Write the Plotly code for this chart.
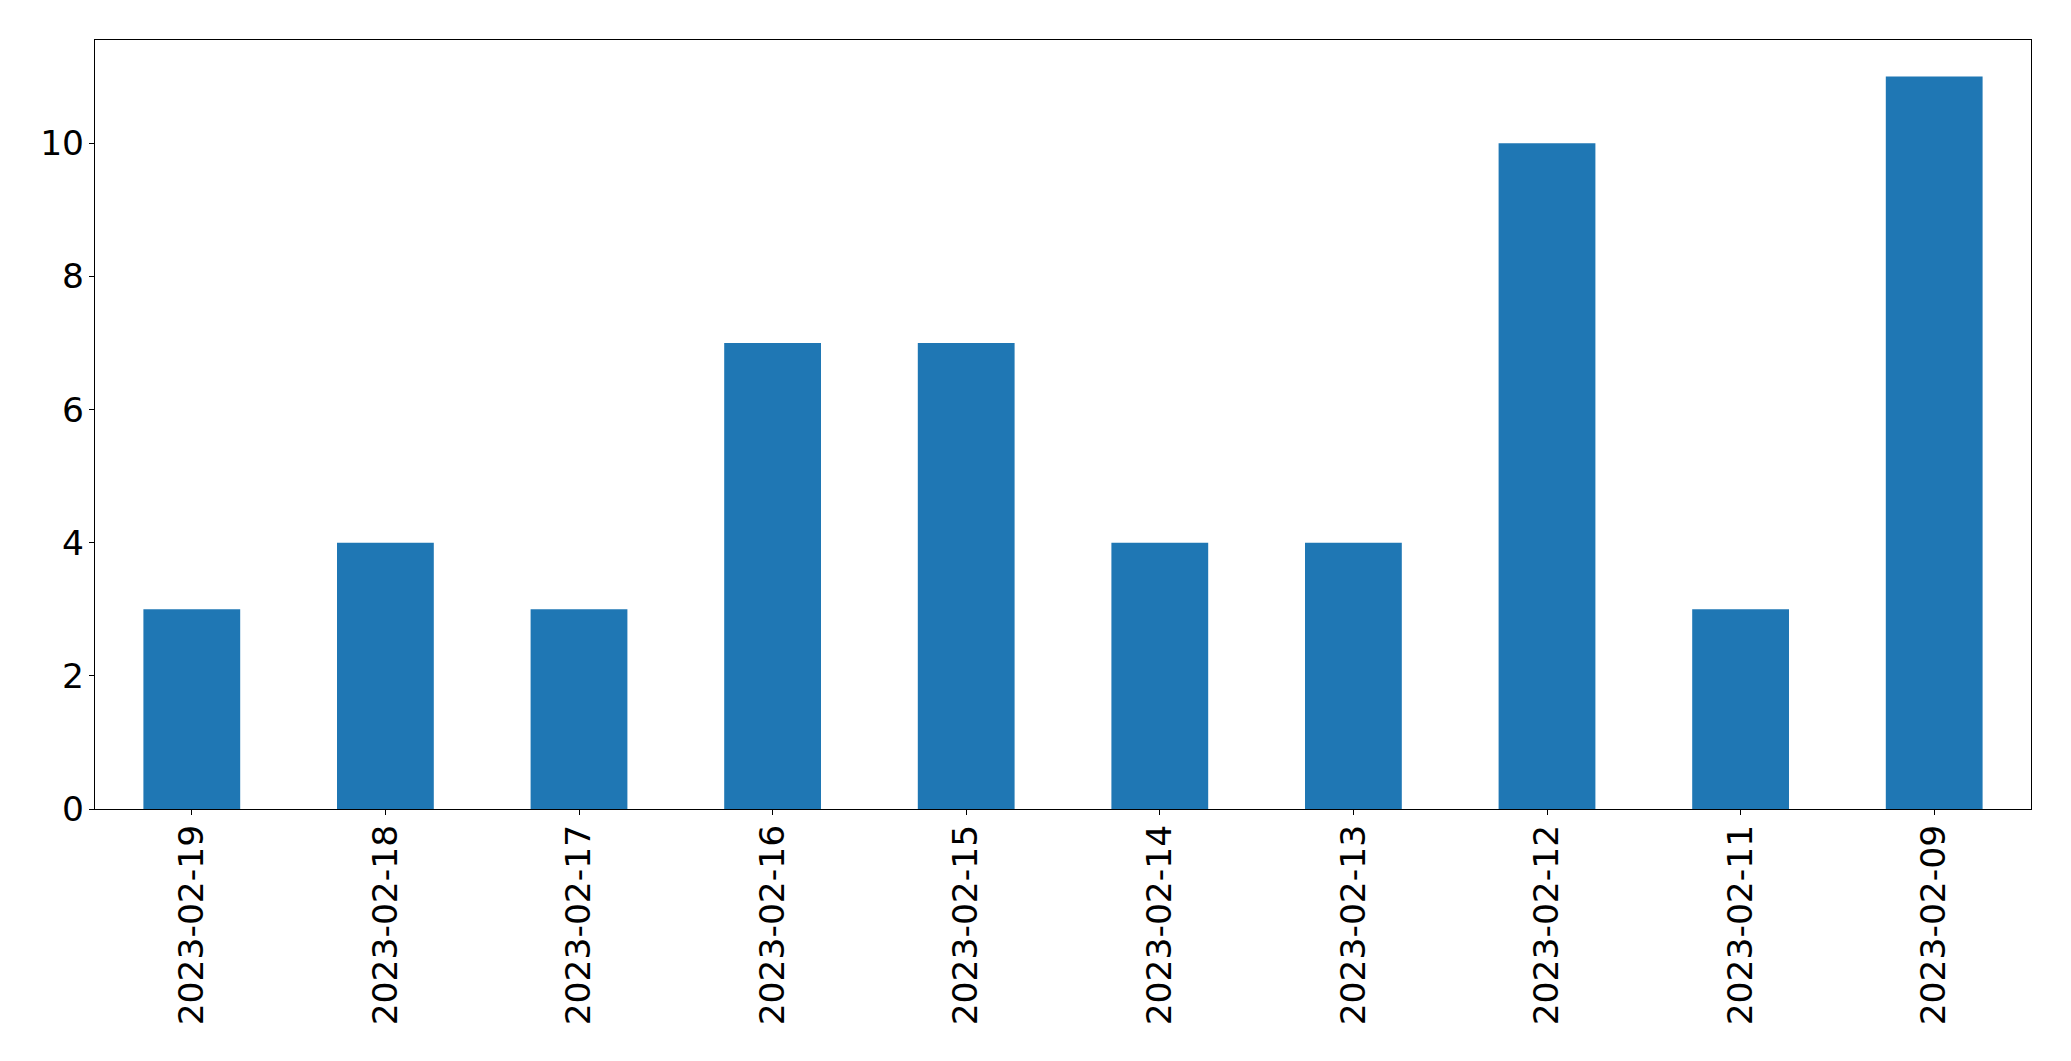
import plotly.graph_objects as go

dates = ["2023-02-19", "2023-02-18", "2023-02-17", "2023-02-16", "2023-02-15",
         "2023-02-14", "2023-02-13", "2023-02-12", "2023-02-11", "2023-02-09"]
counts = [3, 4, 3, 7, 7, 4, 4, 10, 3, 11]
y_ticks = [0, 2, 4, 6, 8, 10]

fig = go.Figure(go.Bar(x=dates, y=counts, width=0.5, marker=dict(color="#1f77b4", line=dict(width=0))))

# page body has an 8px default margin; compensate so the plot area lands where the reference has it
fig.update_layout(
    width=2063, height=1053,
    margin=dict(l=86.5, r=39.5, t=31.5, b=252, autoexpand=False),
    plot_bgcolor="white", paper_bgcolor="white",
    font=dict(family="DejaVu Sans", size=34.5, color="black"),
    showlegend=False,
)
fig.update_xaxes(
    type="category", range=[-0.5, len(dates) - 0.5],
    tickangle=-90, ticks="outside", ticklen=5, tickwidth=1.1, tickcolor="black",
    showline=True, linecolor="black", linewidth=1.1, mirror=True,
    showgrid=False, zeroline=False, ticklabelstandoff=-4, automargin=False,
)
fig.update_yaxes(
    range=[0, 11.55], tickvals=y_ticks, ticks="outside", ticklen=5, tickwidth=1.1,
    tickcolor="black", showline=True, linecolor="black", linewidth=1.1, mirror=True,
    showgrid=False, zeroline=False, ticklabelstandoff=-2, automargin=False,
)

fig.write_html("out.html")
